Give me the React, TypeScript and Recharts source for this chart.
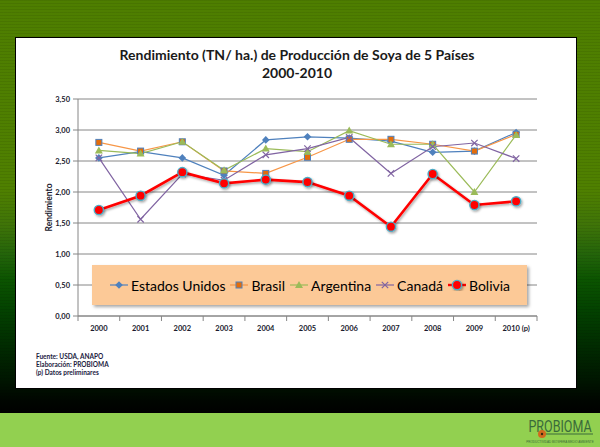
import React from 'react';
import { LineChart, Line, XAxis, YAxis, CartesianGrid, Legend } from 'recharts';

const years = ['2000', '2001', '2002', '2003', '2004', '2005', '2006', '2007', '2008', '2009', '2010 (p)'];
const estadosUnidos = [2.55, 2.65, 2.55, 2.27, 2.84, 2.89, 2.87, 2.82, 2.64, 2.66, 2.96];
const brasil = [2.80, 2.66, 2.81, 2.34, 2.30, 2.56, 2.85, 2.85, 2.77, 2.66, 2.93];
const argentina = [2.67, 2.62, 2.81, 2.35, 2.70, 2.65, 2.99, 2.77, 2.77, 2.00, 2.92];
const canada = [2.55, 1.56, 2.29, 2.19, 2.60, 2.70, 2.88, 2.30, 2.73, 2.79, 2.54];
const bolivia = [1.71, 1.94, 2.32, 2.14, 2.20, 2.16, 1.94, 1.44, 2.29, 1.79, 1.85];
const yTicks = [0, 0.5, 1, 1.5, 2, 2.5, 3, 3.5];

const seriesNames = ['Estados Unidos', 'Brasil', 'Argentina', 'Canadá', 'Bolivia'];
const seriesKeys = ['eu', 'br', 'ar', 'ca', 'bo'];
const seriesValues = [estadosUnidos, brasil, argentina, canada, bolivia];

const data = years.map((year, i) => {
  const row: any = { year };
  seriesKeys.forEach((k, s) => { row[k] = seriesValues[s][i]; });
  return row;
});

const styles: Record<string, { color: string; width: number; shape: string }> = {
  eu: { color: '#4f81bd', width: 1.2, shape: 'diamond' },
  br: { color: '#f79646', width: 1.2, shape: 'square' },
  ar: { color: '#9bbb59', width: 1.2, shape: 'triangle' },
  ca: { color: '#8064a2', width: 1.2, shape: 'x' },
  bo: { color: '#ff0000', width: 2.6, shape: 'circle' },
};

const Marker = ({ shape, cx, cy }: { shape: string; cx: number; cy: number }) => {
  if (cx == null || cy == null) return null;
  switch (shape) {
    case 'diamond':
      return <polygon points={`${cx},${cy - 3.8} ${cx + 3.8},${cy} ${cx},${cy + 3.8} ${cx - 3.8},${cy}`} fill="#4f81bd" />;
    case 'square':
      return <rect x={cx - 3} y={cy - 3} width={6} height={6} fill="#e46c0a" stroke="#4f81bd" strokeWidth={1} />;
    case 'triangle':
      return <polygon points={`${cx},${cy - 4} ${cx + 4},${cy + 3} ${cx - 4},${cy + 3}`} fill="#9bbb59" />;
    case 'x':
      return (
        <g stroke="#8064a2" strokeWidth={1.2}>
          <line x1={cx - 3.2} y1={cy - 3.2} x2={cx + 3.2} y2={cy + 3.2} />
          <line x1={cx - 3.2} y1={cy + 3.2} x2={cx + 3.2} y2={cy - 3.2} />
        </g>
      );
    case 'circle':
      return <circle cx={cx} cy={cy} r={4.6} fill="#ff0000" stroke="#4bacc6" strokeWidth={1.4} filter="url(#shadow)" />;
    default:
      return null;
  }
};

const makeDot = (key: string) => (p: any) => (
  <Marker key={`${key}-${p.index}`} shape={styles[key].shape} cx={p.cx} cy={p.cy} />
);

const XTick = (props: any) => {
  const { x, y, payload, width, visibleTicksCount, index } = props;
  const bw = width / visibleTicksCount;
  return (
    <g>
      <line x1={x - bw / 2} y1={y} x2={x - bw / 2} y2={y + 5} stroke="#868686" />
      {index === visibleTicksCount - 1 && (
        <line x1={x + bw / 2} y1={y} x2={x + bw / 2} y2={y + 5} stroke="#868686" />
      )}
      <text x={x} y={y + 15} textAnchor="middle" fontSize={7.5} fontWeight="bold" fill="#1a1a2e" fontFamily="Lato, sans-serif">
        {payload.value}
      </text>
    </g>
  );
};

const LegendContent = (props: any) => {
  const payload = [...(props.payload || [])].sort(
    (a: any, b: any) => seriesKeys.indexOf(a.dataKey) - seriesKeys.indexOf(b.dataKey)
  );
  return (
    <div
      style={{
        width: 435,
        height: 40,
        background: '#fcc997',
        boxShadow: '2px 2px 3px rgba(0,0,0,0.35)',
        display: 'flex',
        alignItems: 'center',
        justifyContent: 'center',
        gap: 4,
        fontFamily: 'Lato, sans-serif',
        fontSize: 14,
        color: '#000',
      }}
    >
      {payload.map((entry: any) => {
        const key = entry.dataKey as string;
        const st = styles[key];
        return (
          <div key={key} style={{ display: 'flex', alignItems: 'center' }}>
            <svg width={20} height={12} style={{ marginRight: 2 }}>
              <line x1={1} y1={6} x2={19} y2={6} stroke={st.color} strokeWidth={st.width > 2 ? 2.4 : 1.2} />
              <Marker shape={st.shape} cx={10} cy={6} />
            </svg>
            <span>{entry.value}</span>
          </div>
        );
      })}
    </div>
  );
};

export default function App() {
  return (
    <div
      style={{
        position: 'absolute',
        left: 0,
        top: 0,
        width: 600,
        height: 447,
        overflow: 'hidden',
        background:
          'linear-gradient(to bottom, #4e7e00 0px, #4f8000 190px, #3f7408 225px, #23640a 255px, #0b5400 280px, #034200 310px, #012c00 345px, #001600 380px, #000600 400px, #000 413px, #92d050 413px, #92d050 447px)',
      }}
    >
      <div
        style={{
          position: 'absolute',
          left: 0,
          top: 0,
          width: 600,
          height: 413,
          background: 'repeating-linear-gradient(to bottom, rgba(0,0,0,0.07) 0px, rgba(0,0,0,0.07) 1px, rgba(255,255,255,0) 1px, rgba(255,255,255,0) 3px)',
        }}
      />
      <div
        style={{
          position: 'absolute',
          left: 15,
          top: 37,
          width: 562,
          height: 352,
          background: '#fff',
          border: '1.5px solid #000',
          boxSizing: 'border-box',
        }}
      />
      <div
        style={{
          position: 'absolute',
          left: 0,
          top: 46,
          width: 594,
          textAlign: 'center',
          fontFamily: 'Lato, sans-serif',
          fontSize: 14,
          fontWeight: 'bold',
          lineHeight: '18px',
          color: '#1a1a1a',
        }}
      >
        <div>Rendimiento (TN/ ha.) de Producción de Soya de 5 Países</div>
        <div>2000-2010</div>
      </div>
      <div style={{ position: 'absolute', left: 0, top: 0 }}>
        <LineChart width={600} height={447} data={data} margin={{ top: 99, right: 63, left: 38, bottom: 101 }}>
          <defs>
            <filter id="shadow" x="-50%" y="-50%" width="200%" height="200%">
              <feDropShadow dx="1.2" dy="1.5" stdDeviation="1" floodColor="#000" floodOpacity="0.35" />
            </filter>
          </defs>
          <CartesianGrid vertical={false} stroke="#868686" strokeWidth={1} />
          <XAxis
            dataKey="year"
            scale="band"
            height={30}
            axisLine={{ stroke: '#868686' }}
            tickLine={false}
            tickSize={0}
            tickMargin={0}
            interval={0}
            tick={<XTick />}
          />
          <YAxis
            width={40}
            domain={[0, 3.5]}
            ticks={yTicks}
            axisLine={{ stroke: '#868686' }}
            tickLine={{ stroke: '#868686' }}
            tickSize={5}
            tickMargin={3}
            tickFormatter={(v: number) => v.toFixed(2).replace('.', ',')}
            tick={{ fontSize: 7.5, fontWeight: 'bold', fill: '#1a1a2e', fontFamily: 'Lato, sans-serif' }}
            label={{
              content: (p: any) => {
                const vb = p.viewBox || {};
                const cx = vb.x + 12;
                const cy = vb.y + vb.height / 2;
                return (
                  <text
                    x={cx}
                    y={cy}
                    transform={`rotate(-90 ${cx} ${cy})`}
                    textAnchor="middle"
                    dominantBaseline="middle"
                    fontSize={8.5}
                    fontWeight="bold"
                    fill="#1a1a2e"
                    fontFamily="Lato, sans-serif"
                  >
                    Rendimiento
                  </text>
                );
              },
            }}
          />
          <Legend
            layout="horizontal"
            verticalAlign="middle"
            align="center"
            wrapperStyle={{ position: 'absolute', left: 92, top: 265, width: 435, height: 40 }}
            content={<LegendContent />}
          />
          {seriesKeys.map((k, i) => (
            <Line
              key={k}
              type="linear"
              dataKey={k}
              name={seriesNames[i]}
              stroke={styles[k].color}
              strokeWidth={styles[k].width}
              dot={makeDot(k)}
              activeDot={false}
              isAnimationActive={false}
              style={k === 'bo' ? { filter: 'url(#shadow)' } : undefined}
            />
          ))}
        </LineChart>
      </div>
      <div
        style={{
          position: 'absolute',
          left: 36,
          top: 353,
          fontFamily: 'Lato, sans-serif',
          fontSize: 6.5,
          fontWeight: 'bold',
          lineHeight: '8.2px',
          color: '#1a1a40',
        }}
      >
        <div>Fuente: USDA, ANAPO</div>
        <div>Elaboración: PROBIOMA</div>
        <div>(p) Datos preliminares</div>
      </div>
      <div style={{ position: 'absolute', left: 522, top: 414, width: 76, height: 32 }}>
        <svg width={76} height={32}>
          <g transform="translate(38 18) scale(1 1.35)">
            <text x={0} y={0} textAnchor="middle" fontSize={12.5} fontFamily="Roboto, sans-serif" fill="#3a6b3a">
              PROBIOMA
            </text>
          </g>
          <line x1={22} y1={20} x2={71} y2={20} stroke="#3a6b3a" strokeWidth={1.2} />
          <circle cx={20} cy={20} r={4} fill="#d2691e" />
          <circle cx={20} cy={20} r={1.2} fill="#3a2a10" />
          <text x={38} y={29} textAnchor="middle" fontSize={3} fontFamily="sans-serif" fill="#3a6b3a">
            PRODUCTIVIDAD BIOSFERA MEDIO AMBIENTE
          </text>
        </svg>
      </div>
    </div>
  );
}
